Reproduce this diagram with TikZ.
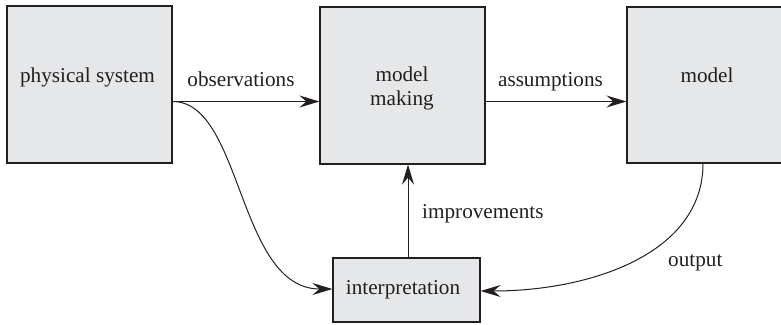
\documentclass[tikz,border=0pt]{standalone}
\usepackage{fontspec}
\setmainfont{LiberationSerif}[Extension=.ttf, UprightFont=*-Regular, BoldFont=*-Bold]
\usetikzlibrary{arrows.meta}
\definecolor{boxfill}{HTML}{E6E7E8}
\definecolor{ink}{HTML}{231F20}
\begin{document}
\begin{tikzpicture}[x=1pt,y=-1pt,
  box/.style={draw=ink, line width=1.2pt, fill=boxfill, inner sep=0pt},
  txt/.style={font=\rmfamily\fontsize{21.2}{23.5}\selectfont, text=ink, inner sep=0pt, anchor=base, align=center},
  conn/.style={draw=ink, line width=1pt, -{Stealth[length=20pt,width=12pt,inset=7pt]}}]
\useasboundingbox (0,0) rectangle (781,324);
\node[box, minimum width=165pt, minimum height=157pt] (phys) at (89.5,84.5) {};
\node[box, minimum width=165pt, minimum height=157pt] (mm) at (402.5,85.5) {};
\node[box, minimum width=160pt, minimum height=156pt] (model) at (707,85) {};
\node[box, minimum width=147pt, minimum height=64pt] (interp) at (406.5,290) {};
\node[txt] (physt) at (87.5,82.3) {physical system};
\node[txt] (mmt) at (402,105.2) {model\\making};
\node[txt] (modelt) at (707,82) {model};
\node[txt] (interpt) at (403,294) {interpretation};
\draw[conn] ([yshift=-17pt]phys.east) -- ([yshift=-16pt]mm.west);
\node[txt] (obsl) at (241,86) {observations};
\draw[conn] ([yshift=-16pt]mm.east) -- ([yshift=-16.5pt]model.west);
\node[txt] (assl) at (550.5,86) {assumptions};
\draw[conn] ([xshift=1.5pt]interp.north) -- ([xshift=5.5pt]mm.south);
\node[txt, anchor=base west] (impl) at (422,218) {improvements};
\draw[conn] ([yshift=-17pt]phys.east) .. controls +(70,0) and +(-95,0) .. ([yshift=1pt]interp.west);
\draw[conn] ([xshift=-4pt]model.south) .. controls +(0,90) and +(110,0) .. ([yshift=-1pt]interp.east);
\node[txt, anchor=base west] (outl) at (668,266) {output};
\end{tikzpicture}
\end{document}
